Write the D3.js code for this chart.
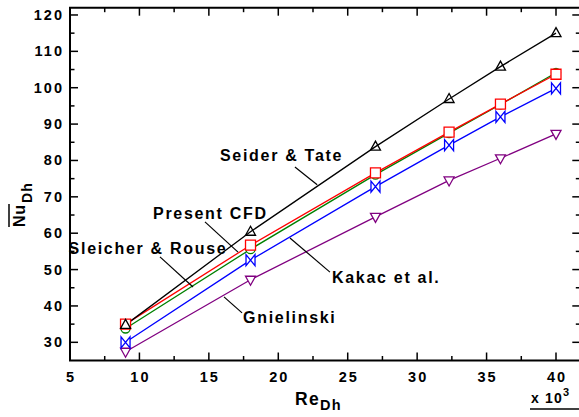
<!DOCTYPE html>
<html><head><meta charset="utf-8">
<script src="https://cdn.jsdelivr.net/npm/d3@7"></script>
<style>
html,body{margin:0;padding:0;background:#fff;}
svg{display:block;font-family:"Liberation Sans",Arial,sans-serif;font-weight:bold;}
</style></head>
<body>
<svg id="chart" width="579" height="417"></svg>
<script>
// ---- data ----
const reDh = [9, 18, 27, 32.3, 36, 40];            // Re_Dh (x 10^3)
const seiderTate   = [34.8, 60.4, 83.8, 96.9, 105.8, 115.0];
const presentCFD   = [35.0, 56.7, 76.6, 87.8, 95.5, 103.7];
const sleicherRouse= [33.8, 55.6, 76.1, 87.5, 95.4, 104.1];
const kakac        = [30.0, 52.6, 72.8, 84.2, 92.0, 99.8];
const gnielinski   = [27.4, 47.2, 64.5, 74.5, 80.6, 87.3];
const xTicks = [5, 10, 15, 20, 25, 30, 35, 40];
const yTicks = [30, 40, 50, 60, 70, 80, 90, 100, 110, 120];

const series = [
  {name: "Gnielinski",       values: gnielinski,    color: "#800080", marker: "triDown"},
  {name: "Kakac et al.",     values: kakac,         color: "#0000ff", marker: "bowtie"},
  {name: "Sleicher & Rouse", values: sleicherRouse, color: "#008000", marker: "circle"},
  {name: "Present CFD",      values: presentCFD,    color: "#ff0000", marker: "square"},
  {name: "Seider & Tate",    values: seiderTate,    color: "#000000", marker: "triUp"}
];

// annotations (data coordinates): text position and leader line
const annotations = [
  {text: "Seider & Tate",    tx: 15.8,  ty: 79.9, l: [[21.2, 78.2], [22.8, 73.3]]},
  {text: "Present CFD",      tx: 10.98, ty: 63.9, l: [[14.72, 63.1], [17.1, 54.8]]},
  {text: "Sleicher & Rouse", tx: 4.9,   ty: 54.3, l: [[11.48, 53.5], [13.86, 45.2]]},
  {text: "Kakac et al.",     tx: 23.87, ty: 46.3, l: [[20.84, 58.7], [23.72, 49.3]]},
  {text: "Gnielinski",       tx: 17.46, ty: 35.3, l: [[16.09, 42.5], [17.39, 38.1]]}
];

// ---- layout ----
const svg = d3.select("#chart");
const x = d3.scaleLinear().domain([5, 41.75]).range([70, 580.3]);
const y = d3.scaleLinear().domain([25, 122]).range([360.5, 7.7]);
const [x0, x1] = x.range(), [y0, y1] = y.range();

// frame
const frame = svg.append("g").attr("stroke", "#000").attr("stroke-width", 2).attr("fill", "none");
frame.append("path").attr("d", `M${x0},${y1}H${x1}V${y0}H${x0}Z`);

// ticks
const majX = xTicks, minX = d3.range(7.5, 41, 5);
const majY = yTicks, minY = d3.range(35, 120, 10);
const tk = svg.append("g").attr("stroke", "#000").attr("stroke-width", 1.5);
majX.forEach(v => {
  tk.append("line").attr("x1", x(v)).attr("x2", x(v)).attr("y1", y0).attr("y2", y0 - 8);
  tk.append("line").attr("x1", x(v)).attr("x2", x(v)).attr("y1", y1).attr("y2", y1 + 8);
});
minX.forEach(v => {
  tk.append("line").attr("x1", x(v)).attr("x2", x(v)).attr("y1", y0).attr("y2", y0 - 4.5);
  tk.append("line").attr("x1", x(v)).attr("x2", x(v)).attr("y1", y1).attr("y2", y1 + 4.5);
});
majY.forEach(v => {
  tk.append("line").attr("y1", y(v)).attr("y2", y(v)).attr("x1", x0).attr("x2", x0 + 8);
  tk.append("line").attr("y1", y(v)).attr("y2", y(v)).attr("x1", x1).attr("x2", x1 - 8);
});
minY.forEach(v => {
  tk.append("line").attr("y1", y(v)).attr("y2", y(v)).attr("x1", x0).attr("x2", x0 + 4.5);
  tk.append("line").attr("y1", y(v)).attr("y2", y(v)).attr("x1", x1).attr("x2", x1 - 4.5);
});

// tick labels
svg.append("g").selectAll("text").data(xTicks).join("text")
  .attr("x", d => x(d) + 1).attr("y", 382).attr("text-anchor", "middle")
  .attr("font-size", 14.5).attr("letter-spacing", 2).text(d => d);
svg.append("g").selectAll("text").data(yTicks).join("text")
  .attr("x", 64).attr("y", d => y(d) + 5).attr("text-anchor", "end")
  .attr("font-size", 14.5).attr("letter-spacing", 2).text(d => d);

// series lines & markers
const line = d3.line().x((d, i) => x(reDh[i])).y(d => y(d));
const markerPath = {
  triUp:   "M0,-5.5L5,3.5L-5,3.5Z",
  triDown: "M0,5.5L5,-3.5L-5,-3.5Z",
  square:  "M-5,-5H5V5H-5Z",
  circle:  d3.symbol(d3.symbolCircle, 64)(),
  bowtie:  "M-4.5,-5.5L4.5,5.5V-5.5L-4.5,5.5Z"
};
series.forEach(s => {
  svg.append("path").datum(s.values).attr("d", line)
    .attr("fill", "none").attr("stroke", s.color).attr("stroke-width", 1.3);
});
series.forEach(s => {
  svg.append("g").selectAll("path").data(s.values).join("path")
    .attr("transform", (d, i) => `translate(${x(reDh[i])},${y(d)})`)
    .attr("d", markerPath[s.marker])
    .attr("fill", s.marker === "triUp" ? "none" : "#fff")
    .attr("stroke", s.color).attr("stroke-width", 1.3);
});

// annotations
annotations.forEach(a => {
  svg.append("text").attr("x", x(a.tx)).attr("y", y(a.ty))
    .attr("font-size", 16).attr("letter-spacing", 1.7).text(a.text);
  svg.append("line").attr("x1", x(a.l[0][0])).attr("y1", y(a.l[0][1]))
    .attr("x2", x(a.l[1][0])).attr("y2", y(a.l[1][1]))
    .attr("stroke", "#000").attr("stroke-width", 1.2);
});

// x axis title
const xt = svg.append("text").attr("x", 295).attr("y", 405);
xt.append("tspan").attr("font-size", 17.5).attr("letter-spacing", 1.3).text("Re");
xt.append("tspan").attr("font-size", 14.5).attr("dy", 5).attr("letter-spacing", 1.3).text("Dh");

// x 10^3
const xm = svg.append("text").attr("x", 531).attr("y", 403).attr("font-size", 14).attr("letter-spacing", 1.2);
xm.append("tspan").text("x 10");
xm.append("tspan").attr("font-size", 11).attr("dy", -7).text("3");
svg.append("line").attr("x1", 530).attr("x2", 579).attr("y1", 409).attr("y2", 409)
  .attr("stroke", "#000").attr("stroke-width", 1.3);

// y axis title (rotated)
const yt = svg.append("g").attr("transform", "translate(25,227) rotate(-90)");
const nu = yt.append("text").attr("x", 0).attr("y", 0).attr("font-size", 16).attr("letter-spacing", 0.8).text("Nu");
const nuLen = nu.node().getComputedTextLength();
yt.append("text").attr("x", nuLen + 1).attr("y", 7).attr("font-size", 14).attr("letter-spacing", 1.2).text("Dh");
yt.append("line").attr("x1", 0).attr("x2", nuLen).attr("y1", -16).attr("y2", -16)
  .attr("stroke", "#000").attr("stroke-width", 1.5);
</script>
</body></html>
